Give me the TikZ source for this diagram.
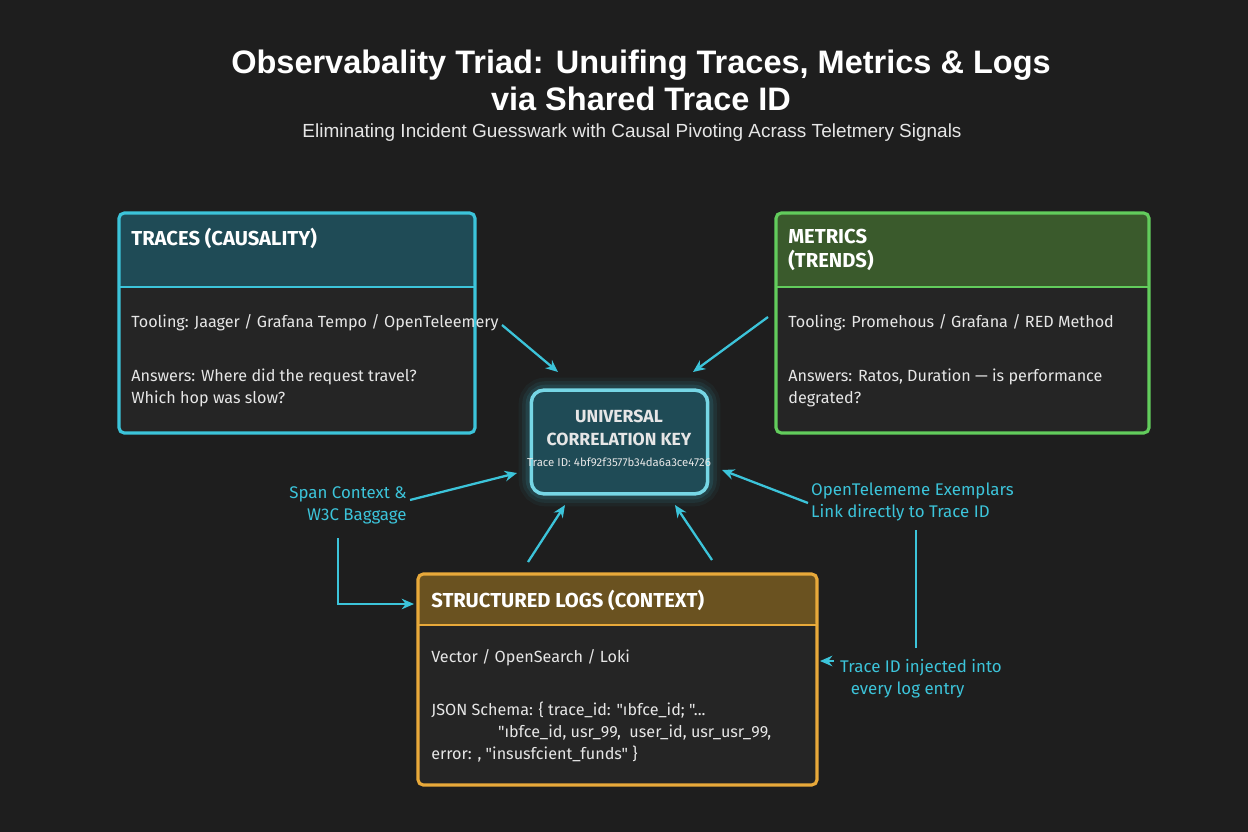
\documentclass[tikz,border=0pt]{standalone}
\usepackage{fontspec}
\setmainfont{Liberation Sans}
\newfontfamily\cond{Fira Sans}
\usetikzlibrary{arrows.meta}
\definecolor{bg}{HTML}{1E1E1E}
\definecolor{body}{HTML}{252525}
\definecolor{cy}{HTML}{3CC4DA}
\definecolor{tealh}{HTML}{1F4B56}
\definecolor{gr}{HTML}{62CC5C}
\definecolor{grh}{HTML}{3A5A2C}
\definecolor{og}{HTML}{E8A93A}
\definecolor{ogh}{HTML}{6A5220}
\definecolor{txt}{HTML}{E6E6E6}
\begin{document}
\begin{tikzpicture}[x=0.02cm,y=-0.02cm,
  box/.style={line width=1.8pt,rounded corners=3pt},
  hd/.style={anchor=west,inner sep=0pt,text=white,font=\cond\fontsize{11.5}{13.5}\selectfont\bfseries,align=left},
  bt/.style={anchor=west,inner sep=0pt,text=txt,font=\cond\fontsize{9.2}{12.5}\selectfont,align=left},
  lbl/.style={text=cy,font=\cond\fontsize{9.6}{12.5}\selectfont},
  arr/.style={cy,line width=1.3pt,-{Stealth[length=7pt,width=6pt]}}]
\fill[bg] (0,0) rectangle (1248,832);
\node[text=white,font=\fontsize{18.5}{21}\selectfont\bfseries,align=center] (title) at (641,80) {Observabality Triad: Unuifing Traces, Metrics \& Logs\\via Shared Trace ID};
\node[text=txt,font=\fontsize{10.8}{12}\selectfont] (sub) at (632,133) {Eliminating Incident Guesswark with Causal Pivoting Acrass Teletmery Signals};
% traces
\fill[body,rounded corners=3pt] (119,213) rectangle (475,433);
\fill[tealh,rounded corners=3pt] (119,213) rectangle (475,287);
\draw[box,cy] (119,213) rectangle (475,433);
\draw[cy,line width=1.5pt] (119,287) -- (475,287);
\node[hd] (th) at (131,238) {TRACES (CAUSALITY)};
\node[bt] (t1) at (131,323) {Tooling: Jaager / Grafana Tempo / OpenTeleemery};
\node[bt] (t2) at (131,388) {Answers: Where did the request travel?\\Which hop was slow?};
% metrics
\fill[body,rounded corners=3pt] (776,213) rectangle (1149,433);
\fill[grh,rounded corners=3pt] (776,213) rectangle (1149,287);
\draw[box,gr] (776,213) rectangle (1149,433);
\draw[gr,line width=1.5pt] (776,287) -- (1149,287);
\node[hd] (mh) at (788,250) {METRICS\\(TRENDS)};
\node[bt] (m1) at (788,323) {Tooling: Promehous / Grafana / RED Method};
\node[bt] (m2) at (788,388) {Answers: Ratos, Duration — is performance\\degrated?};
% center
\foreach \w/\o in {14/0.05,10/0.08,6/0.12}{\draw[cy,line width=\w pt,opacity=\o,rounded corners=8pt] (531,390) rectangle (708,494);}
\fill[tealh,rounded corners=7pt] (531,390) rectangle (708,494);
\node[draw=cy!70!white,line width=2pt,rounded corners=7pt,minimum width=177*0.567pt,minimum height=104*0.567pt] (key) at (619.5,442) {};
\node[text=txt,font=\cond\fontsize{10}{13}\selectfont\bfseries,align=center] (k1) at (619,428) {UNIVERSAL\\CORRELATION KEY};
\node[text=txt,font=\cond\fontsize{6.5}{8}\selectfont] (k2) at (619,462) {Trace ID: 4bf92f3577b34da6a3ce4726};
% logs
\fill[body,rounded corners=3pt] (418,574) rectangle (817,785);
\fill[ogh,rounded corners=3pt] (418,574) rectangle (817,625);
\draw[box,og] (418,574) rectangle (817,785);
\draw[og,line width=1.5pt] (418,625) -- (817,625);
\node[hd] (lh) at (431,600) {STRUCTURED LOGS (CONTEXT)};
\node[bt] (l1) at (431,658) {Vector / OpenSearch / Loki};
\node[bt] (l2) at (431,732) {JSON Schema: \{ trace\_id: "ıbfce\_id; "...\\\hspace*{38pt}"ıbfce\_id, usr\_99, \ user\_id, usr\_usr\_99,\\error: , "insusfcient\_funds" \}};
% labels
\node[lbl,align=right] (sc) at (348,505) {Span Context \&\\W3C Baggage};
\node[lbl,align=left,anchor=west] (ex) at (805,502) {OpenTelememe Exemplars\\Link directly to Trace ID};
\node[lbl,align=left,anchor=west] (inj) at (834,679) {Trace ID injected into\\\hspace*{6pt}every log entry};
% arrows
\coordinate (a1s) at (502,325); \coordinate (a1e) at (558,372);
\coordinate (a2s) at (768,317); \coordinate (a2e) at (693,372);
\coordinate (a3s) at (410,500); \coordinate (a3e) at (517,473);
\coordinate (a4s) at (528,562); \coordinate (a4e) at (565,505);
\coordinate (a5s) at (712,560); \coordinate (a5e) at (675,505);
\coordinate (a6s) at (808,503); \coordinate (a6e) at (722,470);
\draw[arr] (a1s) -- (a1e);
\draw[arr] (a2s) -- (a2e);
\draw[arr] (a3s) -- (a3e);
\draw[arr] (a4s) -- (a4e);
\draw[arr] (a5s) -- (a5e);
\draw[arr] (a6s) -- (a6e);
\coordinate (e1) at (338,538); \coordinate (e2) at (338,604); \coordinate (e3) at (414,604);
\draw[arr] (e1) -- (e2) -- (e3);
\coordinate (f1) at (916,530); \coordinate (f2) at (916,648);
\draw[cy,line width=1.3pt] (f1) -- (f2);
\coordinate (g1) at (834,661); \coordinate (g2) at (820,661);
\draw[arr] (g1) -- (g2);
\end{tikzpicture}
\end{document}
